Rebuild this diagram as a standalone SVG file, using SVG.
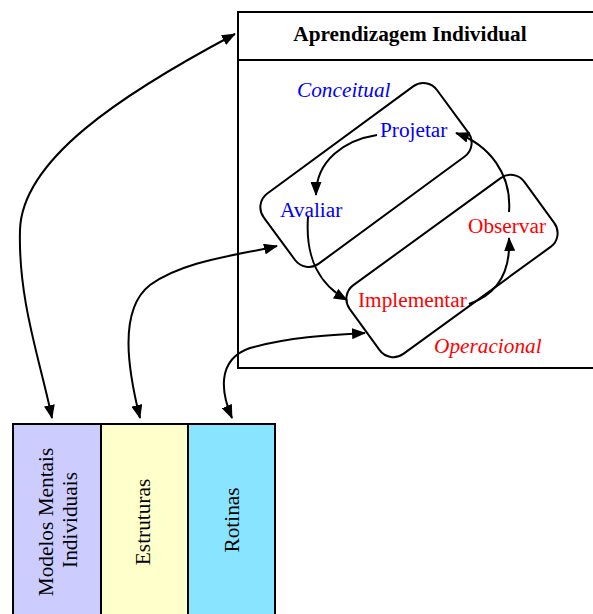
<svg xmlns="http://www.w3.org/2000/svg" width="593" height="614" viewBox="0 0 593 614">
<style>
.t{font-family:"Liberation Serif","Times New Roman",serif;font-size:21.3px}
.b{fill:#0000ff}.r{fill:#ff0000}.k{fill:#000}
.ln{fill:none;stroke:#000;stroke-width:2}
.col{stroke:#000;stroke-width:2}
</style>
<defs>
<marker id="ah" viewBox="0 0 14 11" refX="13" refY="5.5" markerWidth="14" markerHeight="11" markerUnits="userSpaceOnUse" orient="auto-start-reverse">
<path d="M0,0 L14,5.5 L0,11 z" fill="#000"/>
</marker>
</defs>
<g id="main-box">
<rect x="238" y="12" width="360" height="356" fill="#fff" stroke="#000" stroke-width="2"/>
<line x1="238" y1="60" x2="598" y2="60" stroke="#000" stroke-width="2"/>
<text class="t k" x="410" y="41" text-anchor="middle" font-weight="bold">Aprendizagem Individual</text>
</g>
<g id="conceitual">
<rect x="-107.5" y="-43.5" width="215" height="87" rx="17" class="ln" transform="translate(366,175) rotate(-36.3)"/>
<text class="t b" x="297" y="97" font-style="italic">Conceitual</text>
</g>
<g id="operacional">
<rect x="-108" y="-42.5" width="216" height="85" rx="17" class="ln" transform="translate(452,266) rotate(-36)"/>
<text class="t r" x="434" y="353" font-style="italic">Operacional</text>
</g>
<g id="projetar"><text class="t b" x="380" y="137">Projetar</text></g>
<g id="avaliar"><text class="t b" x="280" y="217">Avaliar</text></g>
<g id="implementar"><text class="t r" x="358" y="307">Implementar</text></g>
<g id="observar"><text class="t r" x="468" y="233">Observar</text></g>
<g id="modelos">
<rect x="13" y="424" width="88" height="200" fill="#ccccff" class="col"/>
<text class="t k" text-anchor="middle" transform="translate(53,522) rotate(-90)">Modelos Mentais</text>
<text class="t k" text-anchor="middle" transform="translate(77,520) rotate(-90)">Individuais</text>
</g>
<g id="estruturas">
<rect x="101" y="424" width="87" height="200" fill="#ffffcc" class="col"/>
<text class="t k" text-anchor="middle" transform="translate(150,522) rotate(-90)">Estruturas</text>
</g>
<g id="rotinas">
<rect x="188" y="424" width="87" height="200" fill="#88e4ff" class="col"/>
<text class="t k" text-anchor="middle" transform="translate(239,520) rotate(-90)">Rotinas</text>
</g>
<g id="connectors" class="ln">
<path d="M377,135 C345,140 316,160 316,195" marker-end="url(#ah)"/>
<path d="M308,217 C305,260 320,285 347,300" marker-end="url(#ah)"/>
<path d="M469,304 C495,295 511,275 509,238" marker-end="url(#ah)"/>
<path d="M509,212 C512,175 490,145 456,133" marker-end="url(#ah)"/>
<path d="M52,418 C40,360 18,300 20,230 C22,160 120,95 235,34" marker-start="url(#ah)" marker-end="url(#ah)"/>
<path d="M140,418 C128,370 118,310 150,285 C185,260 240,255 277,246" marker-start="url(#ah)" marker-end="url(#ah)"/>
<path d="M232,418 C222,395 215,360 250,348 C290,337 330,335 365,333" marker-start="url(#ah)" marker-end="url(#ah)"/>
</g>
</svg>
